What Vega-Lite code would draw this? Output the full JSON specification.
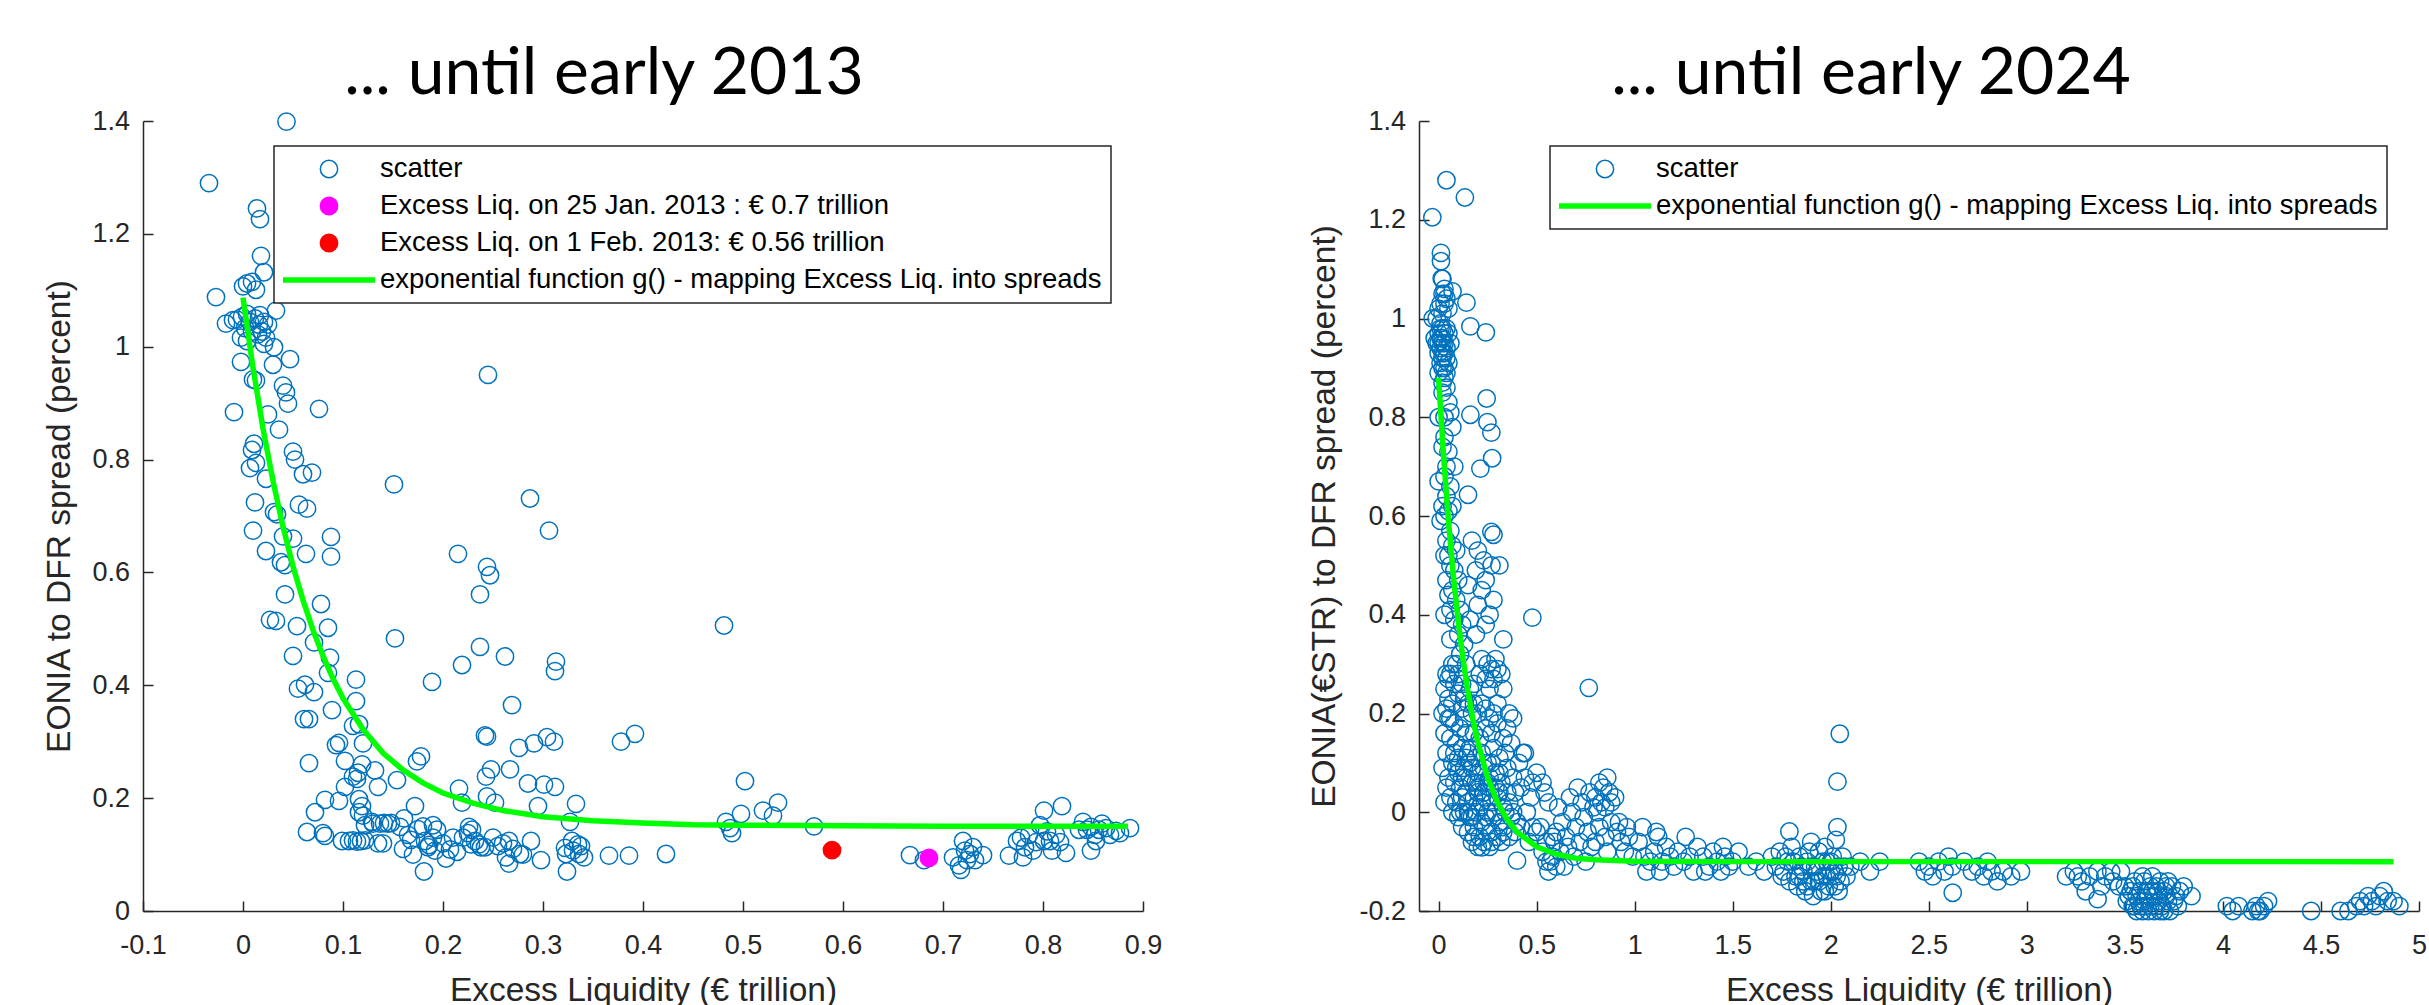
{
  "$schema": "https://vega.github.io/schema/vega-lite/v6.json",
  "padding": {"left": 42, "top": 41, "right": 0, "bottom": 0},
  "bounds": "flush",
  "spacing": 276,
  "resolve": {"scale": {"x": "independent", "y": "independent", "stroke": "independent", "fill": "independent", "shape": "independent", "size": "independent", "strokeWidth": "independent"}},
  "datasets": {
    "l_scatter": [
      {"x":0.0435,"y":1.399,"series":"scatter"},{"x":-0.034,"y":1.29,"series":"scatter"},{"x":0.014,"y":1.245,"series":"scatter"},{"x":0.017,"y":1.226,"series":"scatter"},{"x":0.018,"y":1.161,"series":"scatter"},{"x":0.021,"y":1.132,"series":"scatter"},{"x":-0.027,"y":1.088,"series":"scatter"},{"x":0.0,"y":1.107,"series":"scatter"},{"x":0.004,"y":1.112,"series":"scatter"},{"x":0.009,"y":1.115,"series":"scatter"},{"x":0.013,"y":1.101,"series":"scatter"},{"x":-0.017,"y":1.041,"series":"scatter"},{"x":0.033,"y":1.064,"series":"scatter"},
      {"x":-0.006,"y":1.048,"series":"scatter"},{"x":-0.001,"y":1.053,"series":"scatter"},{"x":0.004,"y":1.058,"series":"scatter"},{"x":0.007,"y":1.044,"series":"scatter"},{"x":0.012,"y":1.05,"series":"scatter"},{"x":0.017,"y":1.056,"series":"scatter"},{"x":0.021,"y":1.044,"series":"scatter"},{"x":0.025,"y":1.039,"series":"scatter"},{"x":0.002,"y":1.033,"series":"scatter"},{"x":0.009,"y":1.027,"series":"scatter"},{"x":0.015,"y":1.022,"series":"scatter"},{"x":0.019,"y":1.027,"series":"scatter"},{"x":0.023,"y":1.016,"series":"scatter"},{"x":-0.002,"y":1.016,"series":"scatter"},{"x":0.004,"y":1.01,"series":"scatter"},{"x":0.021,"y":1.005,"series":"scatter"},{"x":-0.01,"y":1.047,"series":"scatter"},{"x":0.016,"y":1.039,"series":"scatter"},
      {"x":0.031,"y":0.999,"series":"scatter"},{"x":0.047,"y":0.978,"series":"scatter"},{"x":-0.002,"y":0.973,"series":"scatter"},{"x":0.01,"y":0.942,"series":"scatter"},{"x":0.013,"y":0.94,"series":"scatter"},{"x":0.03,"y":0.968,"series":"scatter"},{"x":0.04,"y":0.931,"series":"scatter"},{"x":0.043,"y":0.919,"series":"scatter"},{"x":0.045,"y":0.899,"series":"scatter"},{"x":-0.009,"y":0.884,"series":"scatter"},{"x":0.076,"y":0.89,"series":"scatter"},{"x":0.025,"y":0.88,"series":"scatter"},{"x":0.036,"y":0.853,"series":"scatter"},{"x":0.011,"y":0.828,"series":"scatter"},{"x":0.009,"y":0.817,"series":"scatter"},{"x":0.013,"y":0.794,"series":"scatter"},{"x":0.007,"y":0.785,"series":"scatter"},{"x":0.05,"y":0.814,"series":"scatter"},{"x":0.052,"y":0.8,"series":"scatter"},{"x":0.06,"y":0.774,"series":"scatter"},{"x":0.069,"y":0.777,"series":"scatter"},{"x":0.023,"y":0.766,"series":"scatter"},{"x":0.012,"y":0.724,"series":"scatter"},{"x":0.056,"y":0.72,"series":"scatter"},{"x":0.064,"y":0.713,"series":"scatter"},{"x":0.031,"y":0.707,"series":"scatter"},{"x":0.034,"y":0.703,"series":"scatter"},{"x":0.01,"y":0.674,"series":"scatter"},{"x":0.04,"y":0.664,"series":"scatter"},{"x":0.05,"y":0.66,"series":"scatter"},{"x":0.088,"y":0.663,"series":"scatter"},{"x":0.088,"y":0.628,"series":"scatter"},{"x":0.023,"y":0.638,"series":"scatter"},{"x":0.063,"y":0.633,"series":"scatter"},{"x":0.038,"y":0.618,"series":"scatter"},{"x":0.042,"y":0.613,"series":"scatter"},{"x":0.042,"y":0.561,"series":"scatter"},{"x":0.078,"y":0.544,"series":"scatter"},{"x":0.027,"y":0.516,"series":"scatter"},{"x":0.033,"y":0.514,"series":"scatter"},{"x":0.054,"y":0.505,"series":"scatter"},{"x":0.085,"y":0.502,"series":"scatter"},{"x":0.071,"y":0.476,"series":"scatter"},{"x":0.05,"y":0.452,"series":"scatter"},{"x":0.087,"y":0.449,"series":"scatter"},{"x":0.113,"y":0.41,"series":"scatter"},{"x":0.055,"y":0.394,"series":"scatter"},{"x":0.062,"y":0.401,"series":"scatter"},{"x":0.071,"y":0.388,"series":"scatter"},{"x":0.085,"y":0.422,"series":"scatter"},{"x":0.061,"y":0.34,"series":"scatter"},{"x":0.066,"y":0.34,"series":"scatter"},{"x":0.089,"y":0.356,"series":"scatter"},{"x":0.113,"y":0.372,"series":"scatter"},{"x":0.11,"y":0.328,"series":"scatter"},{"x":0.116,"y":0.331,"series":"scatter"},{"x":0.093,"y":0.294,"series":"scatter"},{"x":0.096,"y":0.298,"series":"scatter"},{"x":0.12,"y":0.297,"series":"scatter"},{"x":0.066,"y":0.262,"series":"scatter"},{"x":0.102,"y":0.266,"series":"scatter"},{"x":0.115,"y":0.245,"series":"scatter"},{"x":0.119,"y":0.26,"series":"scatter"},{"x":0.11,"y":0.238,"series":"scatter"},{"x":0.114,"y":0.234,"series":"scatter"},{"x":0.132,"y":0.249,"series":"scatter"},{"x":0.102,"y":0.22,"series":"scatter"},{"x":0.135,"y":0.22,"series":"scatter"},{"x":0.154,"y":0.232,"series":"scatter"},{"x":0.178,"y":0.274,"series":"scatter"},{"x":0.174,"y":0.265,"series":"scatter"},{"x":0.082,"y":0.197,"series":"scatter"},{"x":0.096,"y":0.195,"series":"scatter"},{"x":0.116,"y":0.198,"series":"scatter"},{"x":0.119,"y":0.186,"series":"scatter"},{"x":0.072,"y":0.175,"series":"scatter"},{"x":0.116,"y":0.175,"series":"scatter"},{"x":0.12,"y":0.169,"series":"scatter"},{"x":0.129,"y":0.158,"series":"scatter"},{"x":0.137,"y":0.155,"series":"scatter"},{"x":0.148,"y":0.156,"series":"scatter"},{"x":0.064,"y":0.14,"series":"scatter"},{"x":0.082,"y":0.133,"series":"scatter"},{"x":0.08,"y":0.138,"series":"scatter"},
      {"x":0.099,"y":0.124,"series":"scatter"},{"x":0.106,"y":0.124,"series":"scatter"},{"x":0.11,"y":0.125,"series":"scatter"},{"x":0.114,"y":0.123,"series":"scatter"},{"x":0.118,"y":0.124,"series":"scatter"},{"x":0.122,"y":0.125,"series":"scatter"},{"x":0.122,"y":0.152,"series":"scatter"},{"x":0.13,"y":0.155,"series":"scatter"},{"x":0.141,"y":0.156,"series":"scatter"},
      {"x":0.157,"y":0.149,"series":"scatter"},{"x":0.161,"y":0.164,"series":"scatter"},{"x":0.165,"y":0.135,"series":"scatter"},{"x":0.168,"y":0.126,"series":"scatter"},{"x":0.172,"y":0.186,"series":"scatter"},{"x":0.182,"y":0.124,"series":"scatter"},{"x":0.185,"y":0.113,"series":"scatter"},{"x":0.186,"y":0.117,"series":"scatter"},{"x":0.19,"y":0.13,"series":"scatter"},{"x":0.181,"y":0.07,"series":"scatter"},{"x":0.19,"y":0.152,"series":"scatter"},{"x":0.194,"y":0.144,"series":"scatter"},{"x":0.192,"y":0.107,"series":"scatter"},{"x":0.203,"y":0.093,"series":"scatter"},{"x":0.207,"y":0.109,"series":"scatter"},{"x":0.214,"y":0.105,"series":"scatter"},{"x":0.215,"y":0.633,"series":"scatter"},{"x":0.189,"y":0.406,"series":"scatter"},{"x":0.151,"y":0.756,"series":"scatter"},{"x":0.152,"y":0.483,"series":"scatter"},{"x":0.216,"y":0.217,"series":"scatter"},{"x":0.219,"y":0.192,"series":"scatter"},{"x":0.219,"y":0.436,"series":"scatter"},
      {"x":0.22,"y":0.13,"series":"scatter"},{"x":0.225,"y":0.138,"series":"scatter"},{"x":0.228,"y":0.118,"series":"scatter"},{"x":0.232,"y":0.124,"series":"scatter"},{"x":0.236,"y":0.118,"series":"scatter"},{"x":0.238,"y":0.113,"series":"scatter"},{"x":0.242,"y":0.113,"series":"scatter"},{"x":0.226,"y":0.149,"series":"scatter"},{"x":0.229,"y":0.144,"series":"scatter"},
      {"x":0.237,"y":0.561,"series":"scatter"},{"x":0.245,"y":0.95,"series":"scatter"},{"x":0.244,"y":0.61,"series":"scatter"},{"x":0.247,"y":0.595,"series":"scatter"},{"x":0.237,"y":0.468,"series":"scatter"},{"x":0.242,"y":0.311,"series":"scatter"},{"x":0.244,"y":0.309,"series":"scatter"},{"x":0.243,"y":0.238,"series":"scatter"},{"x":0.248,"y":0.251,"series":"scatter"},{"x":0.244,"y":0.203,"series":"scatter"},{"x":0.252,"y":0.192,"series":"scatter"},{"x":0.262,"y":0.451,"series":"scatter"},{"x":0.263,"y":0.095,"series":"scatter"},{"x":0.266,"y":0.084,"series":"scatter"},{"x":0.267,"y":0.251,"series":"scatter"},{"x":0.269,"y":0.365,"series":"scatter"},{"x":0.266,"y":0.124,"series":"scatter"},{"x":0.276,"y":0.289,"series":"scatter"},{"x":0.285,"y":0.226,"series":"scatter"},{"x":0.277,"y":0.101,"series":"scatter"},{"x":0.287,"y":0.731,"series":"scatter"},{"x":0.288,"y":0.124,"series":"scatter"},{"x":0.291,"y":0.297,"series":"scatter"},{"x":0.295,"y":0.186,"series":"scatter"},{"x":0.298,"y":0.09,"series":"scatter"},{"x":0.301,"y":0.224,"series":"scatter"},{"x":0.304,"y":0.308,"series":"scatter"},{"x":0.306,"y":0.674,"series":"scatter"},{"x":0.311,"y":0.3,"series":"scatter"},{"x":0.312,"y":0.22,"series":"scatter"},{"x":0.313,"y":0.442,"series":"scatter"},{"x":0.312,"y":0.425,"series":"scatter"},{"x":0.323,"y":0.101,"series":"scatter"},{"x":0.324,"y":0.07,"series":"scatter"},{"x":0.327,"y":0.158,"series":"scatter"},{"x":0.329,"y":0.124,"series":"scatter"},{"x":0.333,"y":0.19,"series":"scatter"},{"x":0.336,"y":0.101,"series":"scatter"},{"x":0.338,"y":0.115,"series":"scatter"},{"x":0.341,"y":0.095,"series":"scatter"},{"x":0.366,"y":0.098,"series":"scatter"},{"x":0.386,"y":0.098,"series":"scatter"},{"x":0.378,"y":0.3,"series":"scatter"},{"x":0.392,"y":0.314,"series":"scatter"},{"x":0.423,"y":0.101,"series":"scatter"},{"x":0.481,"y":0.506,"series":"scatter"},{"x":0.483,"y":0.158,"series":"scatter"},{"x":0.487,"y":0.147,"series":"scatter"},{"x":0.489,"y":0.138,"series":"scatter"},{"x":0.498,"y":0.172,"series":"scatter"},{"x":0.502,"y":0.23,"series":"scatter"},{"x":0.52,"y":0.178,"series":"scatter"},{"x":0.53,"y":0.169,"series":"scatter"},{"x":0.535,"y":0.192,"series":"scatter"},{"x":0.571,"y":0.15,"series":"scatter"},{"x":0.667,"y":0.099,"series":"scatter"},{"x":0.681,"y":0.09,"series":"scatter"},
      {"x":0.16,"y":0.11,"series":"scatter"},{"x":0.17,"y":0.1,"series":"scatter"},{"x":0.2,"y":0.12,"series":"scatter"},{"x":0.21,"y":0.13,"series":"scatter"},{"x":0.25,"y":0.13,"series":"scatter"},{"x":0.255,"y":0.115,"series":"scatter"},{"x":0.26,"y":0.12,"series":"scatter"},{"x":0.27,"y":0.11,"series":"scatter"},{"x":0.28,"y":0.1,"series":"scatter"},{"x":0.135,"y":0.12,"series":"scatter"},{"x":0.14,"y":0.12,"series":"scatter"},{"x":0.145,"y":0.155,"series":"scatter"},{"x":0.175,"y":0.145,"series":"scatter"},{"x":0.18,"y":0.15,"series":"scatter"},{"x":0.322,"y":0.112,"series":"scatter"},{"x":0.33,"y":0.107,"series":"scatter"},{"x":0.335,"y":0.118,"series":"scatter"},
      {"x":0.71,"y":0.095,"series":"scatter"},{"x":0.716,"y":0.081,"series":"scatter"},{"x":0.72,"y":0.124,"series":"scatter"},{"x":0.722,"y":0.107,"series":"scatter"},{"x":0.724,"y":0.09,"series":"scatter"},{"x":0.727,"y":0.101,"series":"scatter"},{"x":0.73,"y":0.113,"series":"scatter"},{"x":0.732,"y":0.09,"series":"scatter"},{"x":0.718,"y":0.073,"series":"scatter"},{"x":0.74,"y":0.099,"series":"scatter"},
      {"x":0.766,"y":0.098,"series":"scatter"},{"x":0.774,"y":0.124,"series":"scatter"},{"x":0.778,"y":0.13,"series":"scatter"},{"x":0.782,"y":0.113,"series":"scatter"},{"x":0.78,"y":0.095,"series":"scatter"},{"x":0.786,"y":0.135,"series":"scatter"},{"x":0.79,"y":0.107,"series":"scatter"},{"x":0.793,"y":0.122,"series":"scatter"},{"x":0.797,"y":0.152,"series":"scatter"},{"x":0.801,"y":0.178,"series":"scatter"},{"x":0.804,"y":0.141,"series":"scatter"},{"x":0.807,"y":0.124,"series":"scatter"},{"x":0.809,"y":0.107,"series":"scatter"},{"x":0.813,"y":0.135,"series":"scatter"},{"x":0.817,"y":0.122,"series":"scatter"},{"x":0.819,"y":0.186,"series":"scatter"},{"x":0.823,"y":0.103,"series":"scatter"},{"x":0.801,"y":0.124,"series":"scatter"},
      {"x":0.836,"y":0.144,"series":"scatter"},{"x":0.84,"y":0.158,"series":"scatter"},{"x":0.844,"y":0.144,"series":"scatter"},{"x":0.848,"y":0.149,"series":"scatter"},{"x":0.852,"y":0.135,"series":"scatter"},{"x":0.856,"y":0.144,"series":"scatter"},{"x":0.859,"y":0.155,"series":"scatter"},{"x":0.863,"y":0.147,"series":"scatter"},{"x":0.867,"y":0.135,"series":"scatter"},{"x":0.873,"y":0.142,"series":"scatter"},{"x":0.877,"y":0.138,"series":"scatter"},{"x":0.887,"y":0.147,"series":"scatter"},{"x":0.848,"y":0.107,"series":"scatter"},{"x":0.853,"y":0.124,"series":"scatter"}
    ],
    "l_special": [
      {"x":0.686,"y":0.094,"series":"Excess Liq. on 25 Jan. 2013 : € 0.7 trillion"},
      {"x":0.589,"y":0.108,"series":"Excess Liq. on 1 Feb. 2013: € 0.56 trillion"}
    ],
    "l_curve": [
      {"x":0.0,"y":1.087,"series":"exponential function g() - mapping Excess Liq. into spreads"},{"x":0.01,"y":0.963,"series":"exponential function g() - mapping Excess Liq. into spreads"},{"x":0.02,"y":0.855,"series":"exponential function g() - mapping Excess Liq. into spreads"},{"x":0.03,"y":0.762,"series":"exponential function g() - mapping Excess Liq. into spreads"},{"x":0.04,"y":0.681,"series":"exponential function g() - mapping Excess Liq. into spreads"},{"x":0.05,"y":0.611,"series":"exponential function g() - mapping Excess Liq. into spreads"},{"x":0.06,"y":0.551,"series":"exponential function g() - mapping Excess Liq. into spreads"},{"x":0.07,"y":0.498,"series":"exponential function g() - mapping Excess Liq. into spreads"},{"x":0.08,"y":0.452,"series":"exponential function g() - mapping Excess Liq. into spreads"},{"x":0.09,"y":0.412,"series":"exponential function g() - mapping Excess Liq. into spreads"},{"x":0.1,"y":0.377,"series":"exponential function g() - mapping Excess Liq. into spreads"},{"x":0.12,"y":0.322,"series":"exponential function g() - mapping Excess Liq. into spreads"},{"x":0.14,"y":0.28,"series":"exponential function g() - mapping Excess Liq. into spreads"},{"x":0.16,"y":0.25,"series":"exponential function g() - mapping Excess Liq. into spreads"},{"x":0.18,"y":0.227,"series":"exponential function g() - mapping Excess Liq. into spreads"},{"x":0.2,"y":0.209,"series":"exponential function g() - mapping Excess Liq. into spreads"},{"x":0.23,"y":0.191,"series":"exponential function g() - mapping Excess Liq. into spreads"},{"x":0.26,"y":0.178,"series":"exponential function g() - mapping Excess Liq. into spreads"},{"x":0.3,"y":0.167,"series":"exponential function g() - mapping Excess Liq. into spreads"},{"x":0.35,"y":0.16,"series":"exponential function g() - mapping Excess Liq. into spreads"},{"x":0.4,"y":0.156,"series":"exponential function g() - mapping Excess Liq. into spreads"},{"x":0.45,"y":0.153,"series":"exponential function g() - mapping Excess Liq. into spreads"},{"x":0.5,"y":0.152,"series":"exponential function g() - mapping Excess Liq. into spreads"},{"x":0.6,"y":0.151,"series":"exponential function g() - mapping Excess Liq. into spreads"},{"x":0.7,"y":0.15,"series":"exponential function g() - mapping Excess Liq. into spreads"},{"x":0.885,"y":0.15,"series":"exponential function g() - mapping Excess Liq. into spreads"}
    ],
    "r_scatter": [
      {"x":-0.02,"y":0.96,"series":"scatter"},{"x":-0.01,"y":0.95,"series":"scatter"},{"x":0,"y":0.97,"series":"scatter"},{"x":0.01,"y":0.94,"series":"scatter"},{"x":0.02,"y":0.96,"series":"scatter"},{"x":0.03,"y":0.93,"series":"scatter"},{"x":0.01,"y":0.99,"series":"scatter"},{"x":0.02,"y":1.01,"series":"scatter"},{"x":0,"y":1.02,"series":"scatter"},{"x":-0.01,"y":1.0,"series":"scatter"},{"x":0.03,"y":1.03,"series":"scatter"},{"x":0.04,"y":0.98,"series":"scatter"},{"x":0.02,"y":0.92,"series":"scatter"},{"x":0.01,"y":0.91,"series":"scatter"},{"x":0.03,"y":0.9,"series":"scatter"},{"x":0,"y":0.93,"series":"scatter"},{"x":0.02,"y":0.95,"series":"scatter"},{"x":0.04,"y":0.94,"series":"scatter"},{"x":0.05,"y":0.97,"series":"scatter"},{"x":0.02,"y":1.05,"series":"scatter"},{"x":0.03,"y":1.06,"series":"scatter"},{"x":0.04,"y":1.04,"series":"scatter"},{"x":0.01,"y":1.03,"series":"scatter"},{"x":0,"y":0.89,"series":"scatter"},{"x":0.03,"y":0.88,"series":"scatter"},{"x":0.02,"y":0.87,"series":"scatter"},{"x":0.05,"y":0.91,"series":"scatter"},{"x":0.04,"y":0.89,"series":"scatter"},{"x":-0.03,"y":1.0,"series":"scatter"},{"x":0.01,"y":0.98,"series":"scatter"},{"x":0.03,"y":0.97,"series":"scatter"},{"x":0.02,"y":0.98,"series":"scatter"},{"x":0.01,"y":0.96,"series":"scatter"},{"x":0.03,"y":0.95,"series":"scatter"},{"x":0.02,"y":0.93,"series":"scatter"},{"x":0.04,"y":0.92,"series":"scatter"},{"x":0,"y":0.95,"series":"scatter"},{"x":0.06,"y":0.95,"series":"scatter"},{"x":0.05,"y":1.02,"series":"scatter"},{"x":0.02,"y":0.9,"series":"scatter"},
      {"x":0.04,"y":1.28,"series":"scatter"},{"x":0.134,"y":1.245,"series":"scatter"},{"x":-0.032,"y":1.205,"series":"scatter"},{"x":0.012,"y":1.133,"series":"scatter"},{"x":0.012,"y":1.116,"series":"scatter"},{"x":0.016,"y":1.081,"series":"scatter"},{"x":0.071,"y":1.055,"series":"scatter"},{"x":0.142,"y":1.032,"series":"scatter"},{"x":0.162,"y":0.984,"series":"scatter"},{"x":0.241,"y":0.972,"series":"scatter"},{"x":0.02,"y":1.08,"series":"scatter"},{"x":0.03,"y":1.05,"series":"scatter"},
      {"x":0.02,"y":0.85,"series":"scatter"},{"x":0.04,"y":0.86,"series":"scatter"},{"x":0.05,"y":0.83,"series":"scatter"},{"x":0.03,"y":0.8,"series":"scatter"},{"x":0,"y":0.8,"series":"scatter"},{"x":0.06,"y":0.81,"series":"scatter"},{"x":0.07,"y":0.78,"series":"scatter"},{"x":0.03,"y":0.76,"series":"scatter"},{"x":0.02,"y":0.74,"series":"scatter"},{"x":0.05,"y":0.73,"series":"scatter"},{"x":0.04,"y":0.7,"series":"scatter"},{"x":0.08,"y":0.7,"series":"scatter"},{"x":0.03,"y":0.68,"series":"scatter"},{"x":0,"y":0.67,"series":"scatter"},{"x":0.06,"y":0.66,"series":"scatter"},{"x":0.04,"y":0.64,"series":"scatter"},{"x":0.02,"y":0.62,"series":"scatter"},{"x":0.05,"y":0.61,"series":"scatter"},{"x":0.07,"y":0.62,"series":"scatter"},{"x":0.03,"y":0.6,"series":"scatter"},{"x":0.01,"y":0.59,"series":"scatter"},{"x":0.06,"y":0.57,"series":"scatter"},{"x":0.04,"y":0.55,"series":"scatter"},{"x":0.07,"y":0.54,"series":"scatter"},{"x":0.05,"y":0.52,"series":"scatter"},{"x":0.03,"y":0.52,"series":"scatter"},{"x":0.09,"y":0.53,"series":"scatter"},{"x":0.06,"y":0.5,"series":"scatter"},{"x":0.08,"y":0.49,"series":"scatter"},{"x":0.04,"y":0.47,"series":"scatter"},{"x":0.1,"y":0.47,"series":"scatter"},{"x":0.07,"y":0.45,"series":"scatter"},{"x":0.05,"y":0.44,"series":"scatter"},{"x":0.09,"y":0.43,"series":"scatter"},{"x":0.03,"y":0.4,"series":"scatter"},{"x":0.06,"y":0.41,"series":"scatter"},{"x":0.11,"y":0.41,"series":"scatter"},{"x":0.08,"y":0.39,"series":"scatter"},{"x":0.12,"y":0.38,"series":"scatter"},{"x":0.1,"y":0.36,"series":"scatter"},{"x":0.06,"y":0.35,"series":"scatter"},{"x":0.13,"y":0.34,"series":"scatter"},
      {"x":0.245,"y":0.838,"series":"scatter"},{"x":0.162,"y":0.805,"series":"scatter"},{"x":0.249,"y":0.79,"series":"scatter"},{"x":0.269,"y":0.769,"series":"scatter"},{"x":0.273,"y":0.717,"series":"scatter"},{"x":0.213,"y":0.696,"series":"scatter"},{"x":0.15,"y":0.643,"series":"scatter"},{"x":0.269,"y":0.568,"series":"scatter"},{"x":0.28,"y":0.562,"series":"scatter"},
      {"x":0.17,"y":0.55,"series":"scatter"},{"x":0.2,"y":0.53,"series":"scatter"},{"x":0.23,"y":0.51,"series":"scatter"},{"x":0.27,"y":0.5,"series":"scatter"},{"x":0.19,"y":0.49,"series":"scatter"},{"x":0.24,"y":0.47,"series":"scatter"},{"x":0.31,"y":0.5,"series":"scatter"},{"x":0.15,"y":0.46,"series":"scatter"},{"x":0.22,"y":0.45,"series":"scatter"},{"x":0.28,"y":0.43,"series":"scatter"},{"x":0.2,"y":0.42,"series":"scatter"},{"x":0.26,"y":0.4,"series":"scatter"},{"x":0.16,"y":0.39,"series":"scatter"},{"x":0.24,"y":0.38,"series":"scatter"},{"x":0.33,"y":0.35,"series":"scatter"},{"x":0.19,"y":0.36,"series":"scatter"},{"x":0.29,"y":0.31,"series":"scatter"},{"x":0.22,"y":0.31,"series":"scatter"},{"x":0.25,"y":0.3,"series":"scatter"},{"x":0.27,"y":0.29,"series":"scatter"},{"x":0.3,"y":0.29,"series":"scatter"},{"x":0.21,"y":0.28,"series":"scatter"},{"x":0.24,"y":0.27,"series":"scatter"},{"x":0.28,"y":0.27,"series":"scatter"},{"x":0.32,"y":0.28,"series":"scatter"},{"x":0.26,"y":0.25,"series":"scatter"},{"x":0.18,"y":0.26,"series":"scatter"},{"x":0.14,"y":0.3,"series":"scatter"},{"x":0.11,"y":0.32,"series":"scatter"},{"x":0.09,"y":0.3,"series":"scatter"},{"x":0.06,"y":0.28,"series":"scatter"},{"x":0.08,"y":0.26,"series":"scatter"},{"x":0.04,"y":0.28,"series":"scatter"},{"x":0.05,"y":0.23,"series":"scatter"},{"x":0.07,"y":0.22,"series":"scatter"},{"x":0.1,"y":0.24,"series":"scatter"},{"x":0.12,"y":0.21,"series":"scatter"},{"x":0.15,"y":0.22,"series":"scatter"},{"x":0.17,"y":0.2,"series":"scatter"},{"x":0.33,"y":0.25,"series":"scatter"},{"x":0.36,"y":0.2,"series":"scatter"},{"x":0.38,"y":0.19,"series":"scatter"},{"x":0.3,"y":0.22,"series":"scatter"},{"x":0.35,"y":0.17,"series":"scatter"},{"x":0.478,"y":0.394,"series":"scatter"},{"x":0.766,"y":0.252,"series":"scatter"},
      {"x":0.05,"y":0.19,"series":"scatter"},{"x":0.08,"y":0.18,"series":"scatter"},{"x":0.11,"y":0.17,"series":"scatter"},{"x":0.14,"y":0.16,"series":"scatter"},{"x":0.06,"y":0.15,"series":"scatter"},{"x":0.09,"y":0.14,"series":"scatter"},{"x":0.12,"y":0.13,"series":"scatter"},{"x":0.15,"y":0.12,"series":"scatter"},{"x":0.04,"y":0.12,"series":"scatter"},{"x":0.07,"y":0.1,"series":"scatter"},{"x":0.1,"y":0.11,"series":"scatter"},{"x":0.13,"y":0.09,"series":"scatter"},{"x":0.16,"y":0.1,"series":"scatter"},{"x":0.19,"y":0.11,"series":"scatter"},{"x":0.22,"y":0.12,"series":"scatter"},{"x":0.25,"y":0.1,"series":"scatter"},{"x":0.28,"y":0.13,"series":"scatter"},{"x":0.31,"y":0.11,"series":"scatter"},{"x":0.34,"y":0.12,"series":"scatter"},{"x":0.37,"y":0.14,"series":"scatter"},{"x":0.21,"y":0.15,"series":"scatter"},{"x":0.18,"y":0.16,"series":"scatter"},{"x":0.24,"y":0.17,"series":"scatter"},{"x":0.27,"y":0.16,"series":"scatter"},{"x":0.3,"y":0.18,"series":"scatter"},{"x":0.33,"y":0.15,"series":"scatter"},{"x":0.05,"y":0.07,"series":"scatter"},{"x":0.08,"y":0.06,"series":"scatter"},{"x":0.11,"y":0.05,"series":"scatter"},{"x":0.14,"y":0.07,"series":"scatter"},{"x":0.17,"y":0.06,"series":"scatter"},{"x":0.2,"y":0.08,"series":"scatter"},{"x":0.23,"y":0.06,"series":"scatter"},{"x":0.26,"y":0.07,"series":"scatter"},{"x":0.29,"y":0.08,"series":"scatter"},{"x":0.32,"y":0.06,"series":"scatter"},{"x":0.35,"y":0.09,"series":"scatter"},{"x":0.38,"y":0.07,"series":"scatter"},{"x":0.41,"y":0.1,"series":"scatter"},{"x":0.43,"y":0.12,"series":"scatter"},{"x":0.06,"y":0.03,"series":"scatter"},{"x":0.09,"y":0.02,"series":"scatter"},{"x":0.12,"y":0.03,"series":"scatter"},{"x":0.15,"y":0.02,"series":"scatter"},{"x":0.18,"y":0.03,"series":"scatter"},{"x":0.21,"y":0.01,"series":"scatter"},{"x":0.24,"y":0.03,"series":"scatter"},{"x":0.27,"y":0.02,"series":"scatter"},{"x":0.3,"y":0.03,"series":"scatter"},{"x":0.33,"y":0.01,"series":"scatter"},{"x":0.36,"y":0.02,"series":"scatter"},{"x":0.39,"y":0.04,"series":"scatter"},{"x":0.42,"y":0.05,"series":"scatter"},{"x":0.07,"y":0.0,"series":"scatter"},{"x":0.1,"y":-0.01,"series":"scatter"},{"x":0.13,"y":0.0,"series":"scatter"},{"x":0.16,"y":-0.01,"series":"scatter"},{"x":0.19,"y":0.0,"series":"scatter"},{"x":0.22,"y":-0.02,"series":"scatter"},{"x":0.25,"y":0.0,"series":"scatter"},{"x":0.28,"y":-0.01,"series":"scatter"},{"x":0.31,"y":-0.02,"series":"scatter"},{"x":0.34,"y":0.0,"series":"scatter"},{"x":0.37,"y":-0.01,"series":"scatter"},{"x":0.4,"y":-0.02,"series":"scatter"},{"x":0.12,"y":-0.03,"series":"scatter"},{"x":0.15,"y":-0.04,"series":"scatter"},{"x":0.18,"y":-0.03,"series":"scatter"},{"x":0.21,"y":-0.05,"series":"scatter"},{"x":0.24,"y":-0.03,"series":"scatter"},{"x":0.27,"y":-0.04,"series":"scatter"},{"x":0.3,"y":-0.05,"series":"scatter"},{"x":0.33,"y":-0.03,"series":"scatter"},{"x":0.36,"y":-0.05,"series":"scatter"},{"x":0.2,"y":-0.07,"series":"scatter"},{"x":0.23,"y":-0.06,"series":"scatter"},{"x":0.17,"y":-0.06,"series":"scatter"},{"x":0.26,"y":-0.07,"series":"scatter"},{"x":0.32,"y":-0.06,"series":"scatter"},{"x":0.39,"y":-0.04,"series":"scatter"},{"x":0.03,"y":0.02,"series":"scatter"},{"x":0.04,"y":0.05,"series":"scatter"},{"x":0.02,"y":0.09,"series":"scatter"},{"x":0.03,"y":0.16,"series":"scatter"},{"x":0.14,"y":0.04,"series":"scatter"},{"x":0.2,"y":0.04,"series":"scatter"},{"x":0.26,"y":0.05,"series":"scatter"},{"x":0.16,"y":0.13,"series":"scatter"},{"x":0.19,"y":0.06,"series":"scatter"},{"x":0.23,"y":0.09,"series":"scatter"},{"x":0.29,"y":0.0,"series":"scatter"},{"x":0.35,"y":0.04,"series":"scatter"},{"x":0.44,"y":0.07,"series":"scatter"},{"x":0.47,"y":0.03,"series":"scatter"},{"x":0.45,"y":0.0,"series":"scatter"},{"x":0.48,"y":-0.03,"series":"scatter"},{"x":0.13,"y":0.19,"series":"scatter"},{"x":0.09,"y":0.09,"series":"scatter"},{"x":0.11,"y":0.0,"series":"scatter"},{"x":0.22,"y":0.02,"series":"scatter"},{"x":0.31,"y":0.04,"series":"scatter"},{"x":0.17,"y":-0.01,"series":"scatter"},{"x":0.221,"y":-0.071,"series":"scatter"},{"x":0.4,"y":-0.098,"series":"scatter"},{"x":0.44,"y":0.12,"series":"scatter"},{"x":0.48,"y":0.06,"series":"scatter"},{"x":0.5,"y":0.08,"series":"scatter"},
      {"x":0.02,"y":0.2,"series":"scatter"},{"x":0.04,"y":0.21,"series":"scatter"},{"x":0.06,"y":0.19,"series":"scatter"},{"x":0.03,"y":0.25,"series":"scatter"},{"x":0.05,"y":0.27,"series":"scatter"},{"x":0.07,"y":0.3,"series":"scatter"},{"x":0.1,"y":0.28,"series":"scatter"},{"x":0.12,"y":0.26,"series":"scatter"},{"x":0.13,"y":0.23,"series":"scatter"},{"x":0.16,"y":0.25,"series":"scatter"},{"x":0.18,"y":0.22,"series":"scatter"},{"x":0.2,"y":0.2,"series":"scatter"},{"x":0.22,"y":0.22,"series":"scatter"},{"x":0.24,"y":0.21,"series":"scatter"},{"x":0.26,"y":0.19,"series":"scatter"},{"x":0.28,"y":0.2,"series":"scatter"},{"x":0.08,"y":0.12,"series":"scatter"},{"x":0.1,"y":0.08,"series":"scatter"},{"x":0.12,"y":0.07,"series":"scatter"},{"x":0.14,"y":0.11,"series":"scatter"},{"x":0.17,"y":0.09,"series":"scatter"},{"x":0.2,"y":0.05,"series":"scatter"},{"x":0.23,"y":0.04,"series":"scatter"},{"x":0.25,"y":0.06,"series":"scatter"},{"x":0.27,"y":0.1,"series":"scatter"},{"x":0.29,"y":0.05,"series":"scatter"},{"x":0.31,"y":0.08,"series":"scatter"},{"x":0.15,"y":0.0,"series":"scatter"},{"x":0.18,"y":-0.05,"series":"scatter"},{"x":0.24,"y":-0.01,"series":"scatter"},{"x":0.27,"y":-0.06,"series":"scatter"},{"x":0.33,"y":-0.04,"series":"scatter"},{"x":0.38,"y":0.0,"series":"scatter"},{"x":0.42,"y":-0.03,"series":"scatter"},{"x":0.46,"y":-0.06,"series":"scatter"},{"x":0.5,"y":-0.04,"series":"scatter"},{"x":0.53,"y":-0.08,"series":"scatter"},{"x":0.55,"y":-0.1,"series":"scatter"},{"x":0.58,"y":-0.05,"series":"scatter"},
      {"x":0.52,"y":-0.03,"series":"scatter"},{"x":0.55,"y":-0.06,"series":"scatter"},{"x":0.58,"y":-0.09,"series":"scatter"},{"x":0.6,"y":-0.11,"series":"scatter"},{"x":0.57,"y":-0.1,"series":"scatter"},{"x":0.62,"y":-0.08,"series":"scatter"},{"x":0.65,"y":-0.05,"series":"scatter"},{"x":0.6,"y":-0.04,"series":"scatter"},{"x":0.63,"y":-0.02,"series":"scatter"},{"x":0.66,"y":-0.07,"series":"scatter"},{"x":0.69,"y":-0.09,"series":"scatter"},{"x":0.72,"y":-0.06,"series":"scatter"},{"x":0.7,"y":-0.03,"series":"scatter"},{"x":0.68,"y":0.0,"series":"scatter"},{"x":0.74,"y":-0.01,"series":"scatter"},{"x":0.76,"y":-0.04,"series":"scatter"},{"x":0.78,"y":-0.07,"series":"scatter"},{"x":0.73,"y":0.02,"series":"scatter"},{"x":0.77,"y":0.04,"series":"scatter"},{"x":0.8,"y":0.03,"series":"scatter"},{"x":0.82,"y":0.06,"series":"scatter"},{"x":0.84,"y":0.05,"series":"scatter"},{"x":0.86,"y":0.07,"series":"scatter"},{"x":0.81,"y":0.0,"series":"scatter"},{"x":0.83,"y":0.02,"series":"scatter"},{"x":0.85,"y":0.01,"series":"scatter"},{"x":0.87,"y":0.04,"series":"scatter"},{"x":0.88,"y":0.02,"series":"scatter"},{"x":0.9,"y":0.03,"series":"scatter"},{"x":0.82,"y":-0.03,"series":"scatter"},{"x":0.85,"y":-0.05,"series":"scatter"},{"x":0.88,"y":-0.02,"series":"scatter"},{"x":0.91,"y":-0.04,"series":"scatter"},{"x":0.93,"y":-0.06,"series":"scatter"},{"x":0.8,"y":-0.06,"series":"scatter"},{"x":0.95,"y":-0.08,"series":"scatter"},{"x":0.97,"y":-0.05,"series":"scatter"},{"x":0.99,"y":-0.09,"series":"scatter"},{"x":0.75,"y":-0.1,"series":"scatter"},{"x":0.64,"y":-0.11,"series":"scatter"},{"x":0.56,"y":-0.12,"series":"scatter"},{"x":0.59,"y":-0.06,"series":"scatter"},{"x":0.54,"y":0.04,"series":"scatter"},{"x":0.53,"y":0.06,"series":"scatter"},{"x":0.56,"y":0.02,"series":"scatter"},{"x":0.61,"y":0.01,"series":"scatter"},{"x":0.67,"y":0.03,"series":"scatter"},{"x":0.71,"y":0.05,"series":"scatter"},{"x":0.79,"y":0.01,"series":"scatter"},{"x":0.86,"y":-0.08,"series":"scatter"},{"x":0.92,"y":-0.02,"series":"scatter"},{"x":0.96,"y":-0.03,"series":"scatter"},
      {"x":1.02,"y":-0.06,"series":"scatter"},{"x":1.05,"y":-0.09,"series":"scatter"},{"x":1.08,"y":-0.1,"series":"scatter"},{"x":1.1,"y":-0.08,"series":"scatter"},{"x":1.12,"y":-0.05,"series":"scatter"},{"x":1.14,"y":-0.1,"series":"scatter"},{"x":1.16,"y":-0.07,"series":"scatter"},{"x":1.18,"y":-0.09,"series":"scatter"},{"x":1.2,"y":-0.11,"series":"scatter"},{"x":1.22,"y":-0.08,"series":"scatter"},{"x":1.25,"y":-0.1,"series":"scatter"},{"x":1.28,"y":-0.09,"series":"scatter"},{"x":1.3,"y":-0.12,"series":"scatter"},{"x":1.32,"y":-0.07,"series":"scatter"},{"x":1.35,"y":-0.09,"series":"scatter"},{"x":1.38,"y":-0.11,"series":"scatter"},{"x":1.4,"y":-0.08,"series":"scatter"},{"x":1.42,"y":-0.1,"series":"scatter"},{"x":1.44,"y":-0.12,"series":"scatter"},{"x":1.46,"y":-0.09,"series":"scatter"},{"x":1.48,"y":-0.11,"series":"scatter"},{"x":1.5,"y":-0.1,"series":"scatter"},{"x":1.06,"y":-0.12,"series":"scatter"},{"x":1.13,"y":-0.12,"series":"scatter"},{"x":1.26,"y":-0.05,"series":"scatter"},{"x":1.04,"y":-0.03,"series":"scatter"},{"x":1.11,"y":-0.04,"series":"scatter"},{"x":1.36,"y":-0.12,"series":"scatter"},{"x":1.45,"y":-0.07,"series":"scatter"},{"x":1.53,"y":-0.08,"series":"scatter"},{"x":1.58,"y":-0.11,"series":"scatter"},{"x":1.62,"y":-0.1,"series":"scatter"},{"x":1.66,"y":-0.12,"series":"scatter"},{"x":1.7,"y":-0.09,"series":"scatter"},
      {"x":1.72,"y":-0.11,"series":"scatter"},{"x":1.74,"y":-0.08,"series":"scatter"},{"x":1.76,"y":-0.12,"series":"scatter"},{"x":1.78,"y":-0.1,"series":"scatter"},{"x":1.8,"y":-0.07,"series":"scatter"},{"x":1.82,"y":-0.13,"series":"scatter"},{"x":1.84,"y":-0.09,"series":"scatter"},{"x":1.86,"y":-0.12,"series":"scatter"},{"x":1.88,"y":-0.1,"series":"scatter"},{"x":1.9,"y":-0.14,"series":"scatter"},{"x":1.92,"y":-0.11,"series":"scatter"},{"x":1.94,"y":-0.08,"series":"scatter"},{"x":1.96,"y":-0.13,"series":"scatter"},{"x":1.98,"y":-0.1,"series":"scatter"},{"x":2.0,"y":-0.12,"series":"scatter"},{"x":2.02,"y":-0.15,"series":"scatter"},{"x":2.04,"y":-0.11,"series":"scatter"},{"x":2.06,"y":-0.09,"series":"scatter"},{"x":2.08,"y":-0.13,"series":"scatter"},{"x":2.1,"y":-0.11,"series":"scatter"},{"x":1.79,"y":-0.14,"series":"scatter"},{"x":1.83,"y":-0.15,"series":"scatter"},{"x":1.87,"y":-0.16,"series":"scatter"},{"x":1.91,"y":-0.17,"series":"scatter"},{"x":1.95,"y":-0.16,"series":"scatter"},{"x":1.99,"y":-0.15,"series":"scatter"},{"x":2.01,"y":-0.09,"series":"scatter"},{"x":1.97,"y":-0.07,"series":"scatter"},{"x":1.93,"y":-0.12,"series":"scatter"},{"x":1.89,"y":-0.08,"series":"scatter"},{"x":1.85,"y":-0.11,"series":"scatter"},{"x":1.81,"y":-0.1,"series":"scatter"},{"x":1.77,"y":-0.09,"series":"scatter"},{"x":1.75,"y":-0.13,"series":"scatter"},{"x":2.03,"y":-0.13,"series":"scatter"},{"x":2.05,"y":-0.14,"series":"scatter"},{"x":1.789,"y":-0.039,"series":"scatter"},{"x":2.046,"y":0.159,"series":"scatter"},{"x":2.034,"y":0.062,"series":"scatter"},{"x":2.034,"y":-0.03,"series":"scatter"},{"x":2.026,"y":-0.056,"series":"scatter"},{"x":1.9,"y":-0.06,"series":"scatter"},{"x":1.96,"y":-0.1,"series":"scatter"},{"x":2.0,"y":-0.1,"series":"scatter"},{"x":1.92,"y":-0.14,"series":"scatter"},{"x":1.86,"y":-0.14,"series":"scatter"},{"x":2.07,"y":-0.11,"series":"scatter"},{"x":2.15,"y":-0.1,"series":"scatter"},{"x":2.2,"y":-0.12,"series":"scatter"},{"x":2.25,"y":-0.1,"series":"scatter"},
      {"x":1.84,"y":-0.13,"series":"scatter"},{"x":1.88,"y":-0.15,"series":"scatter"},{"x":1.9,"y":-0.11,"series":"scatter"},{"x":1.94,"y":-0.14,"series":"scatter"},{"x":1.98,"y":-0.13,"series":"scatter"},{"x":2.02,"y":-0.12,"series":"scatter"},{"x":1.97,"y":-0.16,"series":"scatter"},{"x":2.04,"y":-0.16,"series":"scatter"},
      {"x":2.45,"y":-0.1,"series":"scatter"},{"x":2.48,"y":-0.12,"series":"scatter"},{"x":2.5,"y":-0.11,"series":"scatter"},{"x":2.55,"y":-0.1,"series":"scatter"},{"x":2.58,"y":-0.12,"series":"scatter"},{"x":2.62,"y":-0.11,"series":"scatter"},{"x":2.622,"y":-0.163,"series":"scatter"},{"x":2.68,"y":-0.1,"series":"scatter"},{"x":2.72,"y":-0.12,"series":"scatter"},{"x":2.75,"y":-0.11,"series":"scatter"},{"x":2.78,"y":-0.13,"series":"scatter"},{"x":2.82,"y":-0.12,"series":"scatter"},{"x":2.85,"y":-0.14,"series":"scatter"},{"x":2.88,"y":-0.12,"series":"scatter"},{"x":2.92,"y":-0.13,"series":"scatter"},{"x":2.97,"y":-0.12,"series":"scatter"},{"x":2.52,"y":-0.13,"series":"scatter"},{"x":2.8,"y":-0.1,"series":"scatter"},{"x":2.6,"y":-0.09,"series":"scatter"},
      {"x":3.2,"y":-0.13,"series":"scatter"},{"x":3.24,"y":-0.12,"series":"scatter"},{"x":3.28,"y":-0.14,"series":"scatter"},{"x":3.32,"y":-0.13,"series":"scatter"},{"x":3.36,"y":-0.12,"series":"scatter"},{"x":3.361,"y":-0.176,"series":"scatter"},{"x":3.4,"y":-0.13,"series":"scatter"},{"x":3.44,"y":-0.14,"series":"scatter"},{"x":3.48,"y":-0.12,"series":"scatter"},{"x":3.5,"y":-0.15,"series":"scatter"},{"x":3.52,"y":-0.17,"series":"scatter"},{"x":3.54,"y":-0.19,"series":"scatter"},{"x":3.56,"y":-0.2,"series":"scatter"},{"x":3.55,"y":-0.14,"series":"scatter"},{"x":3.58,"y":-0.16,"series":"scatter"},{"x":3.6,"y":-0.18,"series":"scatter"},{"x":3.62,"y":-0.2,"series":"scatter"},{"x":3.59,"y":-0.13,"series":"scatter"},{"x":3.63,"y":-0.15,"series":"scatter"},{"x":3.65,"y":-0.17,"series":"scatter"},{"x":3.66,"y":-0.19,"series":"scatter"},{"x":3.68,"y":-0.14,"series":"scatter"},{"x":3.7,"y":-0.16,"series":"scatter"},{"x":3.72,"y":-0.18,"series":"scatter"},{"x":3.74,"y":-0.15,"series":"scatter"},{"x":3.76,"y":-0.17,"series":"scatter"},{"x":3.78,"y":-0.16,"series":"scatter"},{"x":3.8,"y":-0.15,"series":"scatter"},{"x":3.84,"y":-0.17,"series":"scatter"},{"x":3.57,"y":-0.18,"series":"scatter"},{"x":3.61,"y":-0.16,"series":"scatter"},{"x":3.64,"y":-0.13,"series":"scatter"},{"x":3.67,"y":-0.16,"series":"scatter"},{"x":3.69,"y":-0.19,"series":"scatter"},{"x":3.71,"y":-0.15,"series":"scatter"},{"x":3.73,"y":-0.2,"series":"scatter"},{"x":3.75,"y":-0.18,"series":"scatter"},{"x":3.53,"y":-0.16,"series":"scatter"},{"x":3.51,"y":-0.18,"series":"scatter"},{"x":3.6,"y":-0.19,"series":"scatter"},{"x":3.65,"y":-0.2,"series":"scatter"},{"x":3.62,"y":-0.17,"series":"scatter"},{"x":3.58,"y":-0.19,"series":"scatter"},{"x":3.66,"y":-0.15,"series":"scatter"},{"x":3.7,"y":-0.2,"series":"scatter"},{"x":3.47,"y":-0.15,"series":"scatter"},{"x":3.43,"y":-0.12,"series":"scatter"},{"x":3.38,"y":-0.15,"series":"scatter"},{"x":3.3,"y":-0.16,"series":"scatter"},{"x":3.26,"y":-0.13,"series":"scatter"},
      {"x":3.54,"y":-0.15,"series":"scatter"},{"x":3.56,"y":-0.17,"series":"scatter"},{"x":3.59,"y":-0.2,"series":"scatter"},{"x":3.63,"y":-0.19,"series":"scatter"},{"x":3.67,"y":-0.18,"series":"scatter"},{"x":3.71,"y":-0.17,"series":"scatter"},{"x":3.64,"y":-0.16,"series":"scatter"},{"x":3.6,"y":-0.14,"series":"scatter"},{"x":3.68,"y":-0.2,"series":"scatter"},{"x":3.55,"y":-0.19,"series":"scatter"},{"x":3.72,"y":-0.14,"series":"scatter"},{"x":3.77,"y":-0.19,"series":"scatter"},
      {"x":4.02,"y":-0.19,"series":"scatter"},{"x":4.05,"y":-0.2,"series":"scatter"},{"x":4.08,"y":-0.19,"series":"scatter"},{"x":4.15,"y":-0.2,"series":"scatter"},{"x":4.17,"y":-0.19,"series":"scatter"},{"x":4.19,"y":-0.2,"series":"scatter"},{"x":4.21,"y":-0.19,"series":"scatter"},{"x":4.23,"y":-0.18,"series":"scatter"},{"x":4.18,"y":-0.2,"series":"scatter"},{"x":4.45,"y":-0.2,"series":"scatter"},{"x":4.6,"y":-0.2,"series":"scatter"},{"x":4.64,"y":-0.2,"series":"scatter"},{"x":4.68,"y":-0.19,"series":"scatter"},{"x":4.7,"y":-0.18,"series":"scatter"},{"x":4.72,"y":-0.19,"series":"scatter"},{"x":4.74,"y":-0.17,"series":"scatter"},{"x":4.76,"y":-0.18,"series":"scatter"},{"x":4.8,"y":-0.17,"series":"scatter"},{"x":4.82,"y":-0.16,"series":"scatter"},{"x":4.84,"y":-0.18,"series":"scatter"},{"x":4.87,"y":-0.18,"series":"scatter"},{"x":4.9,"y":-0.19,"series":"scatter"},{"x":4.78,"y":-0.19,"series":"scatter"}
    ],
    "r_curve": [
      {"x":0.0,"y":0.88,"series":"exponential function g() - mapping Excess Liq. into spreads"},{"x":0.025,"y":0.723,"series":"exponential function g() - mapping Excess Liq. into spreads"},{"x":0.05,"y":0.591,"series":"exponential function g() - mapping Excess Liq. into spreads"},{"x":0.075,"y":0.48,"series":"exponential function g() - mapping Excess Liq. into spreads"},{"x":0.1,"y":0.387,"series":"exponential function g() - mapping Excess Liq. into spreads"},{"x":0.125,"y":0.309,"series":"exponential function g() - mapping Excess Liq. into spreads"},{"x":0.15,"y":0.243,"series":"exponential function g() - mapping Excess Liq. into spreads"},{"x":0.175,"y":0.188,"series":"exponential function g() - mapping Excess Liq. into spreads"},{"x":0.2,"y":0.142,"series":"exponential function g() - mapping Excess Liq. into spreads"},{"x":0.25,"y":0.07,"series":"exponential function g() - mapping Excess Liq. into spreads"},{"x":0.3,"y":0.02,"series":"exponential function g() - mapping Excess Liq. into spreads"},{"x":0.35,"y":-0.015,"series":"exponential function g() - mapping Excess Liq. into spreads"},{"x":0.4,"y":-0.04,"series":"exponential function g() - mapping Excess Liq. into spreads"},{"x":0.5,"y":-0.07,"series":"exponential function g() - mapping Excess Liq. into spreads"},{"x":0.6,"y":-0.085,"series":"exponential function g() - mapping Excess Liq. into spreads"},{"x":0.7,"y":-0.093,"series":"exponential function g() - mapping Excess Liq. into spreads"},{"x":0.8,"y":-0.096,"series":"exponential function g() - mapping Excess Liq. into spreads"},{"x":1.0,"y":-0.099,"series":"exponential function g() - mapping Excess Liq. into spreads"},{"x":1.5,"y":-0.1,"series":"exponential function g() - mapping Excess Liq. into spreads"},{"x":4.87,"y":-0.1,"series":"exponential function g() - mapping Excess Liq. into spreads"}
    ]
  },
  "hconcat": [
    {
      "width": 1000,
      "height": 790,
      "title": {"text": "... until early 2013", "dx": -39},
      "encoding": {
        "x": {"field": "x", "type": "quantitative", "scale": {"domain": [-0.1, 0.9], "nice": false, "zero": false}, "axis": {"title": "Excess Liquidity (€ trillion)", "values": [-0.1, 0, 0.1, 0.2, 0.3, 0.4, 0.5, 0.6, 0.7, 0.8, 0.9], "labelExpr": "datum.value + ''"}},
        "y": {"field": "y", "type": "quantitative", "scale": {"domain": [0, 1.4], "nice": false, "zero": false}, "axis": {"title": "EONIA to DFR spread (percent)", "values": [0, 0.2, 0.4, 0.6, 0.8, 1, 1.2, 1.4], "labelExpr": "datum.value + ''", "titleX": -73.2}},
        "stroke": {"field": "series", "type": "nominal", "title": null, "scale": {"domain": ["scatter", "Excess Liq. on 25 Jan. 2013 : € 0.7 trillion", "Excess Liq. on 1 Feb. 2013: € 0.56 trillion", "exponential function g() - mapping Excess Liq. into spreads"], "range": ["#0072BD", "#FF00FF", "#FF0000", "#00FF00"]}},
        "strokeWidth": {"field": "series", "type": "nominal", "title": null, "scale": {"type": "ordinal", "domain": ["scatter", "Excess Liq. on 25 Jan. 2013 : € 0.7 trillion", "Excess Liq. on 1 Feb. 2013: € 0.56 trillion", "exponential function g() - mapping Excess Liq. into spreads"], "range": [1.5, 1.5, 1.5, 5.5]}}
      },
      "layer": [
        {
          "data": {"name": "l_scatter"},
          "mark": {"type": "point", "opacity": 1},
          "encoding": {
            "fill": {"field": "series", "type": "nominal", "title": null, "scale": {"domain": ["scatter", "Excess Liq. on 25 Jan. 2013 : € 0.7 trillion", "Excess Liq. on 1 Feb. 2013: € 0.56 trillion", "exponential function g() - mapping Excess Liq. into spreads"], "range": ["transparent", "#FF00FF", "#FF0000", "transparent"]}},
            "shape": {"field": "series", "type": "nominal", "title": null, "scale": {"domain": ["scatter", "Excess Liq. on 25 Jan. 2013 : € 0.7 trillion", "Excess Liq. on 1 Feb. 2013: € 0.56 trillion", "exponential function g() - mapping Excess Liq. into spreads"], "range": ["circle", "circle", "circle", "stroke"]}},
            "size": {"field": "series", "type": "nominal", "title": null, "scale": {"type": "ordinal", "domain": ["scatter", "Excess Liq. on 25 Jan. 2013 : € 0.7 trillion", "Excess Liq. on 1 Feb. 2013: € 0.56 trillion", "exponential function g() - mapping Excess Liq. into spreads"], "range": [300, 300, 300, 8464]}}
          }
        },
        {
          "data": {"name": "l_curve"},
          "mark": {"type": "line"}
        },
        {
          "data": {"name": "l_special"},
          "mark": {"type": "point", "opacity": 1},
          "encoding": {
            "fill": {"field": "series", "type": "nominal", "title": null, "scale": {"domain": ["scatter", "Excess Liq. on 25 Jan. 2013 : € 0.7 trillion", "Excess Liq. on 1 Feb. 2013: € 0.56 trillion", "exponential function g() - mapping Excess Liq. into spreads"], "range": ["transparent", "#FF00FF", "#FF0000", "transparent"]}},
            "shape": {"field": "series", "type": "nominal", "title": null, "scale": {"domain": ["scatter", "Excess Liq. on 25 Jan. 2013 : € 0.7 trillion", "Excess Liq. on 1 Feb. 2013: € 0.56 trillion", "exponential function g() - mapping Excess Liq. into spreads"], "range": ["circle", "circle", "circle", "stroke"]}},
            "size": {"field": "series", "type": "nominal", "title": null, "scale": {"type": "ordinal", "domain": ["scatter", "Excess Liq. on 25 Jan. 2013 : € 0.7 trillion", "Excess Liq. on 1 Feb. 2013: € 0.56 trillion", "exponential function g() - mapping Excess Liq. into spreads"], "range": [300, 300, 300, 8464]}}
          }
        }
      ]
    },
    {
      "width": 1000,
      "height": 790,
      "title": {"text": "... until early 2024", "dx": -48},
      "encoding": {
        "x": {"field": "x", "type": "quantitative", "scale": {"domain": [-0.1, 5], "nice": false, "zero": false}, "axis": {"title": "Excess Liquidity (€ trillion)", "values": [0, 0.5, 1, 1.5, 2, 2.5, 3, 3.5, 4, 4.5, 5], "labelExpr": "datum.value + ''"}},
        "y": {"field": "y", "type": "quantitative", "scale": {"domain": [-0.2, 1.4], "nice": false, "zero": false}, "axis": {"title": "EONIA(€STR) to DFR spread (percent)", "values": [-0.2, 0, 0.2, 0.4, 0.6, 0.8, 1, 1.2, 1.4], "labelExpr": "datum.value + ''", "titleX": -84.5}},
        "stroke": {"field": "series", "type": "nominal", "title": null, "scale": {"domain": ["scatter", "exponential function g() - mapping Excess Liq. into spreads"], "range": ["#0072BD", "#00FF00"]}},
        "strokeWidth": {"field": "series", "type": "nominal", "title": null, "scale": {"type": "ordinal", "domain": ["scatter", "exponential function g() - mapping Excess Liq. into spreads"], "range": [1.5, 5.5]}}
      },
      "layer": [
        {
          "data": {"name": "r_scatter"},
          "mark": {"type": "point", "opacity": 1},
          "encoding": {
            "fill": {"field": "series", "type": "nominal", "title": null, "scale": {"domain": ["scatter", "exponential function g() - mapping Excess Liq. into spreads"], "range": ["transparent", "transparent"]}},
            "shape": {"field": "series", "type": "nominal", "title": null, "scale": {"domain": ["scatter", "exponential function g() - mapping Excess Liq. into spreads"], "range": ["circle", "stroke"]}},
            "size": {"field": "series", "type": "nominal", "title": null, "scale": {"type": "ordinal", "domain": ["scatter", "exponential function g() - mapping Excess Liq. into spreads"], "range": [300, 8464]}}
          }
        },
        {
          "data": {"name": "r_curve"},
          "mark": {"type": "line"}
        }
      ]
    }
  ],
  "config": {
    "view": {"stroke": null},
    "font": "Liberation Sans",
    "axis": {
      "domainColor": "#262626", "domainWidth": 1.5,
      "tickColor": "#262626", "tickWidth": 1.5, "tickSize": -10,
      "labelFont": "Liberation Sans", "labelFontSize": 27, "labelColor": "#262626",
      "titleFont": "Liberation Sans", "titleFontSize": 33.5, "titleFontWeight": "normal", "titleColor": "#262626",
      "grid": false, "labelFlush": false, "labelOverlap": false, "titleBaseline": "alphabetic"
    },
    "axisX": {"labelPadding": 31, "titleY": 89},
    "axisY": {"labelPadding": 23.5},
    "legend": {
      "orient": "none", "legendX": 131, "legendY": 25,
      "padding": 9, "rowPadding": 9, "clipHeight": 28,
      "symbolOffset": -3, "labelOffset": 2,
      "labelFont": "Liberation Sans", "labelFontSize": 27.5, "labelColor": "#000000", "labelLimit": 2000,
      "strokeColor": "#262626", "strokeWidth": 1.5, "fillColor": "#ffffff",
      "symbolOpacity": 1
    },
    "title": {"font": "Lato", "fontSize": 66, "fontWeight": "normal", "color": "#000000", "frame": "group", "anchor": "middle", "baseline": "alphabetic", "offset": -1}
  }
}
